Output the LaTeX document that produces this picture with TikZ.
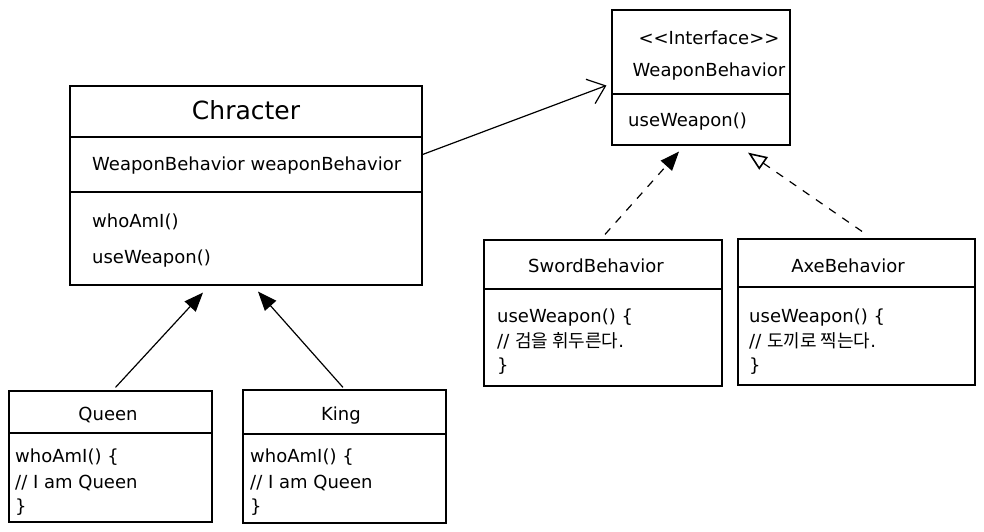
\documentclass[tikz,border=0pt]{standalone}
\usepackage{fontspec}
\setmainfont{DejaVu Sans}
\newfontfamily\krfont{Noto Sans CJK KR}
\usetikzlibrary{arrows.meta}
\begin{document}
\begin{tikzpicture}[x=1pt,y=-1pt,
  box/.style={draw, line width=1.2pt, inner sep=0pt, minimum width=#1},
  sep/.style={line width=1.1pt},
  lbl/.style={inner sep=0pt, anchor=base west, font=\fontsize{18}{20}\selectfont},
  ttl/.style={inner sep=0pt, anchor=base, font=\fontsize{18}{20}\selectfont},
  inh/.style={line width=1.2pt, -{Triangle[length=19pt,width=15pt]}},
  real/.style={line width=1.2pt, dash pattern=on 8pt off 8pt, -{Triangle[length=19pt,width=15pt]}},
  realo/.style={line width=1.2pt, dash pattern=on 8pt off 8pt, -{Triangle[open,length=19pt,width=15pt,line width=1.6pt]}},
  assoc/.style={line width=1.2pt, -{Straight Barb[length=16pt,width=26pt]}}]
\useasboundingbox (0,0) rectangle (984,532);
% Character
\node[box=352pt, minimum height=199pt] (char) at (246,185.5) {};
\draw[sep] (char.west |- 0,137) -- (char.east |- 0,137);
\draw[sep] (char.west |- 0,192) -- (char.east |- 0,192);
\node[ttl, font=\fontsize{25}{28}\selectfont] (chart) at (246,120) {Chracter};
\node[lbl] (charf) at (92,170) {WeaponBehavior weaponBehavior};
\node[lbl] (charm1) at (92,227) {whoAmI()};
\node[lbl] (charm2) at (92,263) {useWeapon()};
% Interface
\node[box=178pt, minimum height=135pt] (iface) at (701,77.5) {};
\draw[sep] (iface.west |- 0,94) -- (iface.east |- 0,94);
\node[ttl] (ifs) at (709,45) {{<}{<}Interface{>}{>}};
\node[ttl] (ifn) at (709,77) {WeaponBehavior};
\node[lbl] (ifm) at (628,126) {useWeapon()};
% Sword
\node[box=238pt, minimum height=146pt] (sword) at (603,313) {};
\draw[sep] (sword.west |- 0,289) -- (sword.east |- 0,289);
\node[ttl] (swt) at (596,272) {SwordBehavior};
\node[lbl] (sw1) at (497,322) {useWeapon() \{};
\node[lbl] (sw2) at (497,347) {// {\krfont 검을 휘두른다}.};
\node[lbl] (sw3) at (497,371) {\}};
% Axe
\node[box=237pt, minimum height=146pt] (axe) at (856.5,312) {};
\draw[sep] (axe.west |- 0,287) -- (axe.east |- 0,287);
\node[ttl] (axt) at (848,272) {AxeBehavior};
\node[lbl] (ax1) at (749,322) {useWeapon() \{};
\node[lbl] (ax2) at (749,347) {// {\krfont 도끼로 찍는다}.};
\node[lbl] (ax3) at (749,371) {\}};
% Queen
\node[box=203pt, minimum height=131pt] (queen) at (110.5,456.5) {};
\draw[sep] (queen.west |- 0,433) -- (queen.east |- 0,433);
\node[ttl] (qt) at (108,420) {Queen};
\node[lbl] (q1) at (15,462) {whoAmI() \{};
\node[lbl] (q2) at (15,488) {// I am Queen};
\node[lbl] (q3) at (15,512) {\}};
% King
\node[box=203pt, minimum height=133pt] (king) at (344.5,456.5) {};
\draw[sep] (king.west |- 0,434) -- (king.east |- 0,434);
\node[ttl] (kt) at (341,420) {King};
\node[lbl] (k1) at (250,462) {whoAmI() \{};
\node[lbl] (k2) at (250,488) {// I am Queen};
\node[lbl] (k3) at (250,512) {\}};
% connectors
\draw[inh] ([xshift=5pt,yshift=3pt]queen.north) -- ([xshift=-43pt,yshift=-7pt]char.south);
\draw[inh] ([xshift=-1.5pt,yshift=2pt]king.north) -- ([xshift=12pt,yshift=-6pt]char.south);
\draw[real] ([xshift=2pt,yshift=5pt]sword.north) -- ([xshift=-22pt,yshift=-6pt]iface.south);
\draw[realo] ([xshift=5.5pt,yshift=7pt]axe.north) -- ([xshift=47pt,yshift=-7pt]iface.south);
\draw[assoc] ([yshift=31pt]char.east) -- ([xshift=-5pt,yshift=-8pt]iface.west);
\end{tikzpicture}
\end{document}
